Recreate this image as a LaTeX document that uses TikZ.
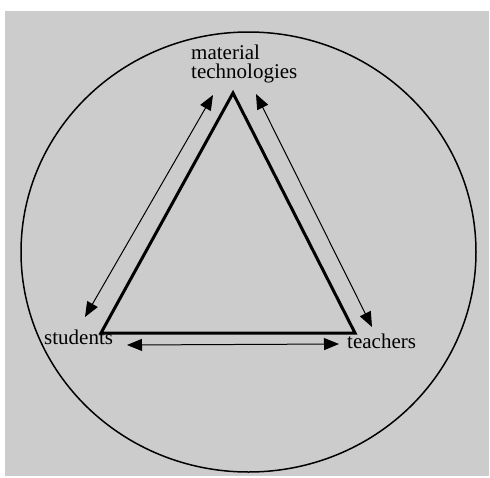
\documentclass[tikz,border=0pt]{standalone}
\usepackage{fontspec}
\setmainfont{Liberation Serif}
\usetikzlibrary{arrows.meta}
\definecolor{bggray}{HTML}{CCCCCC}
\begin{document}
\begin{tikzpicture}[x=1pt,y=-1pt,
  lbl/.style={inner sep=0pt,font=\fontsize{21}{19}\selectfont},
  relarrow/.style={line width=1pt,{Triangle[length=15pt,width=12pt]}-{Triangle[length=15pt,width=12pt]}},
  tri/.style={line width=3pt,line join=miter}]
  \useasboundingbox (0,0) rectangle (490,477);
  \fill[white] (0,0) rectangle (490,477);
  \fill[bggray] (5,11) rectangle (489,476);
  \draw[line width=1.5pt] (248.5,252) ellipse [x radius=227.5, y radius=220];
  % triangle
  \coordinate (apex) at (233,93);
  \coordinate (bl) at (101,333);
  \coordinate (br) at (355,333);
  \draw[tri] (apex) -- (bl) -- (br) -- cycle;
  % labels
  \node[lbl,align=left,anchor=north west] (mt) at (191,45) {material\\technologies};
  \node[lbl,anchor=base west] (st) at (44,344) {students};
  \node[lbl,anchor=base west] (te) at (347,348) {teachers};
  % arrows
  \coordinate (l1) at (213,95);
  \coordinate (l2) at (85,317);
  \coordinate (r1) at (256,94);
  \coordinate (r2) at (372,327);
  \coordinate (b1) at (127,345);
  \coordinate (b2) at (339,344);
  \draw[relarrow] (l1) -- (l2);
  \draw[relarrow] (r1) -- (r2);
  \draw[relarrow] (b1) -- (b2);
\end{tikzpicture}
\end{document}
